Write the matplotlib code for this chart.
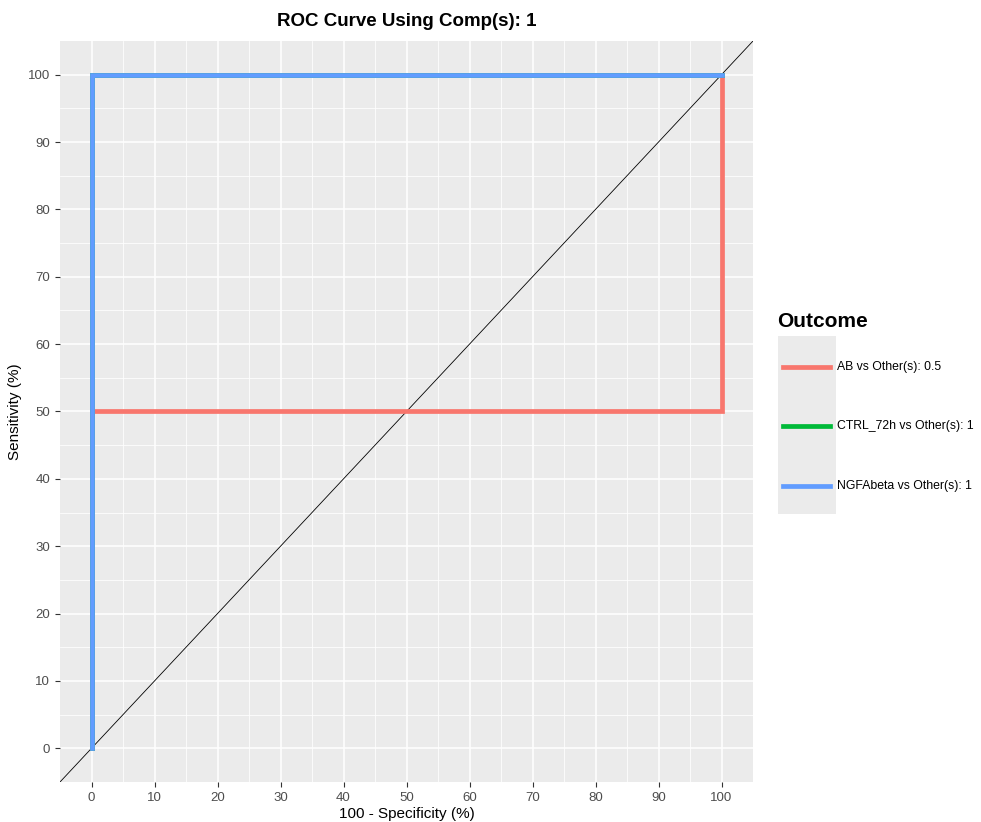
import numpy as np
import matplotlib.pyplot as plt
from matplotlib.patches import Rectangle
from matplotlib.lines import Line2D

plt.rcParams['font.family'] = ['Liberation Sans', 'DejaVu Sans']

# ROC paths: x = 100 - specificity, y = sensitivity
outcomes = ['AB vs Other(s): 0.5', 'CTRL_72h vs Other(s): 1', 'NGFAbeta vs Other(s): 1']
colors = ['#F8766D', '#00BA38', '#619CFF']
fpr_ab = [0, 0, 100, 100]
tpr_ab = [0, 50, 50, 100]
fpr_ctrl = [0, 0, 100]
tpr_ctrl = [0, 100, 100]
fpr_ngf = [0, 0, 100]
tpr_ngf = [0, 100, 100]
ticks = np.arange(0, 101, 10)

W, H = 981, 822
fig = plt.figure(figsize=(W / 100, H / 100), dpi=100)
ax = fig.add_axes([60 / W, 1 - 782 / H, 693 / W, 741 / H])
ax.set_facecolor('#EBEBEB')
for s in ax.spines.values():
    s.set_visible(False)

ax.set_xlim(-5, 105)
ax.set_ylim(-5, 105)
ax.set_xticks(ticks)
ax.set_yticks(ticks)
ax.set_xticks(ticks[:-1] + 5, minor=True)
ax.set_yticks(ticks[:-1] + 5, minor=True)
ax.grid(which='major', color='white', lw=1.1)
ax.grid(which='minor', color='white', lw=0.55)
ax.set_axisbelow(True)
ax.tick_params(which='major', length=3.5, width=0.8, color='#333333',
               labelsize=9.5, labelcolor='#4D4D4D', pad=3.5)
ax.tick_params(which='minor', length=0)

ax.plot([-5, 105], [-5, 105], color='black', lw=0.6)
for fx, ty, c in zip([fpr_ab, fpr_ctrl, fpr_ngf], [tpr_ab, tpr_ctrl, tpr_ngf], colors):
    ax.plot(fx, ty, color=c, lw=3.4, solid_joinstyle='miter')

ax.set_xlabel('100 - Specificity (%)', fontsize=11, labelpad=2)
ax.set_ylabel('Sensitivity (%)', fontsize=11, labelpad=4)
ax.set_title('ROC Curve Using Comp(s): 1', fontsize=13.5, fontweight='bold', pad=11)

# legend
fig.text(777 / W, 1 - 321 / H, 'Outcome', fontsize=15, fontweight='bold', va='center', ha='left')
fig.patches.append(Rectangle((778 / W, 1 - 514 / H), 58 / W, 178 / H,
                             transform=fig.transFigure, facecolor='#EBEBEB', edgecolor='none'))
for lab, c, yp in zip(outcomes, colors, [367, 426, 486]):
    fig.lines.append(Line2D([783 / W, 830 / W], [1 - yp / H] * 2, transform=fig.transFigure,
                            color=c, lw=3.4))
    fig.text(837 / W, 1 - yp / H, lab, fontsize=8.8, va='center', ha='left')

fig.savefig('out.png', dpi=100)
